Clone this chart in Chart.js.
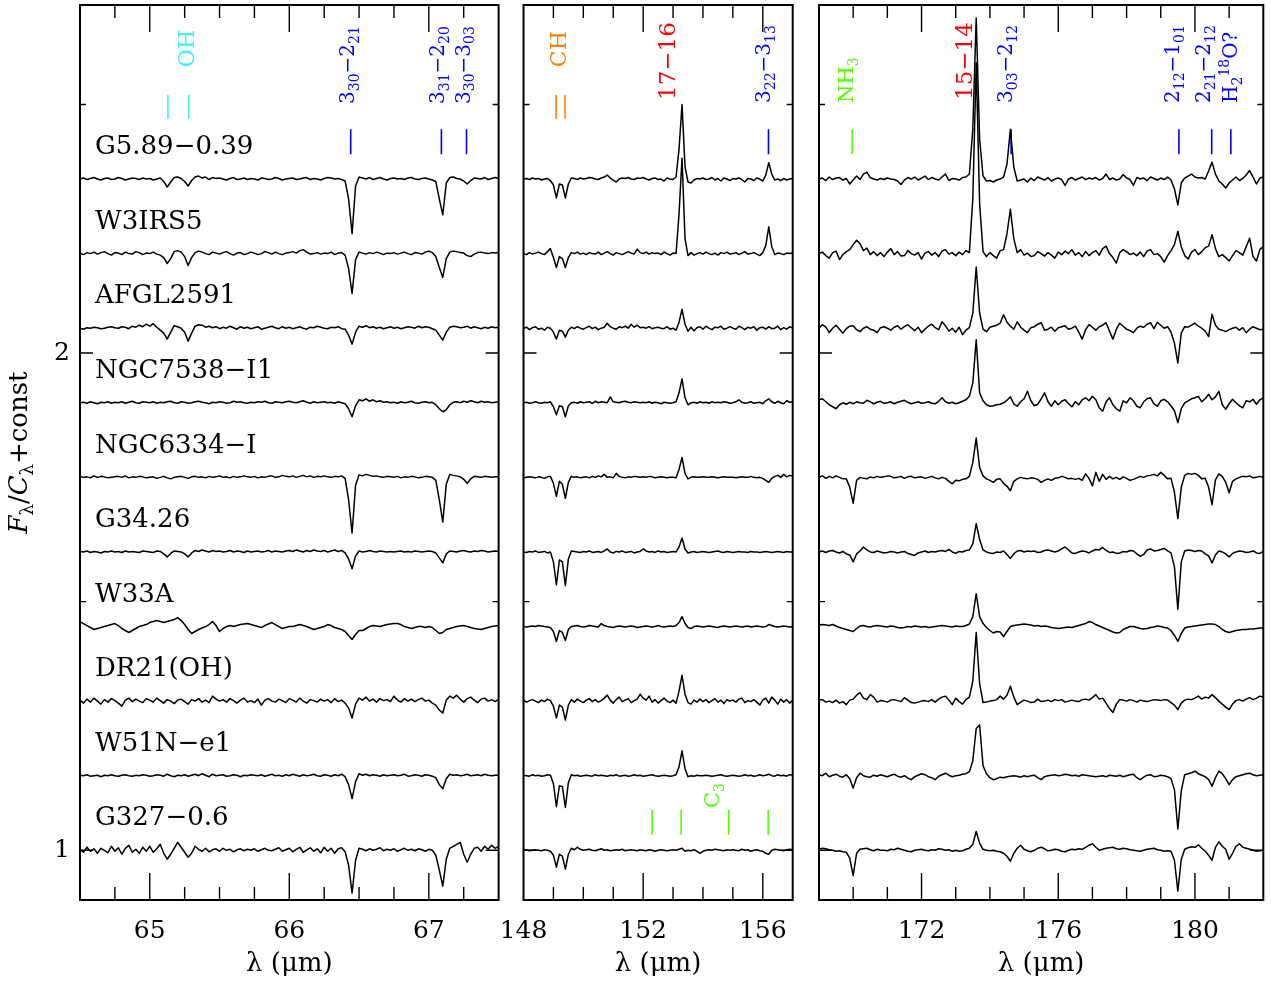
<!DOCTYPE html>
<html>
<head>
<meta charset="utf-8">
<title>Far-infrared spectra</title>
<script src="https://cdn.jsdelivr.net/npm/chart.js@4.4.1/dist/chart.umd.min.js"></script>
<style>
  body { margin: 0; background: #fff; }
  #wrap { position: relative; width: 1271px; height: 983px; }
  canvas { position: absolute; top: 0; }
</style>
</head>
<body>
<div id="wrap">
  <canvas id="c65" width="510" height="983" style="left:0px"></canvas>
  <canvas id="c153" width="310" height="983" style="left:495px"></canvas>
  <canvas id="c175" width="466" height="983" style="left:805px"></canvas>
</div>
<script>
// sources, top to bottom, and the constant added to each normalised spectrum
const sources = ['G5.89−0.39', 'W3IRS5', 'AFGL2591', 'NGC7538−I1', 'NGC6334−I',
                 'G34.26', 'W33A', 'DR21(OH)', 'W51N−e1', 'G327−0.6'];
const offsets = [2.35, 2.20, 2.05, 1.90, 1.75, 1.60, 1.45, 1.30, 1.15, 1.00];

// wavelength sampling of the three windows (micron)
const lam65 = Array.from({ length: 121 }, (_, i) => +(64.5 + 0.025 * i).toFixed(3));
const lam153 = Array.from({ length: 91 }, (_, i) => +(148 + 0.1 * i).toFixed(2));
const lam175 = Array.from({ length: 131 }, (_, i) => +(169 + 0.1 * i).toFixed(2));

// tick labels
const ticks65 = [65, 66, 67];
const ticks153 = [148, 152, 156];
const ticks175 = [172, 176, 180];
const yTicks = [1, 2];

// line identifications (micron)
const ohLines = [65.13, 65.28];
const h2oLines65 = [66.44, 67.09, 67.27];
const chLines = [149.09, 149.39];
const h2oLines153 = [156.19];
const c3Lines = [152.3, 153.27, 154.86, 156.18];
const nh3Lines = [169.97];
const h2oLines175 = [174.62, 179.53, 180.49, 181.05];

// spectra, F/C - 1 in units of 0.001, 64.5-67.5 um
const G589_65 = [
0,2,-1,1,3,0,-2,1,2,-1, 0,3,1,-2,0,2,1,-1,2,0, 1,-2,0,2,-5,-16,-6,3,4,1, -5,-14,-3,4,6,2,4,-1,3,1,
2,0,-2,1,3,-1,0,2,-1,1, 0,-2,2,1,-1,0,3,1,-2,0, 1,2,-1,0,2,3,-1,1,0,-2, 1,3,2,0,1,-1,-4,-40,-110,-14,
4,2,0,3,-1,1,3,0,-2,1, 2,0,1,-1,2,3,0,-1,1,2, 0,-2,-5,-40,-72,-8,3,4,1,0, -4,-10,-3,2,1,0,3,-1,1,3, 1];
const W3IRS5_65 = [
1,-2,2,0,3,-1,2,4,0,-3, 2,1,-2,3,0,-1,4,2,-2,1, 0,3,-1,-3,-8,-20,-10,4,6,3, -6,-24,-8,2,5,3,0,-2,3,1,
-1,2,4,0,-3,1,2,-2,0,3, 1,-2,0,4,2,-1,3,0,-2,1, 2,4,1,6,8,3,-1,0,2,-1, 1,0,3,-2,1,2,-3,-30,-80,-12,
3,1,-1,2,0,3,1,-2,1,0, 2,-1,1,3,0,-2,2,1,-1,3, 5,2,-6,-28,-48,-10,3,5,4,2, 1,-4,-6,-1,2,3,1,0,2,1, 2];
const AFGL2591_65 = [
0,-2,1,0,2,1,-1,0,2,3, 1,0,3,2,-1,4,2,6,3,8, 4,9,2,-4,-10,-22,-8,5,3,0, -8,-26,-10,4,7,6,2,4,1,3,
-1,2,0,4,1,-2,3,0,2,-1, 1,3,-2,0,2,4,1,-1,3,0, 2,-1,1,3,0,-2,2,1,4,2, 0,-1,2,1,3,-1,-2,-14,-32,-8,
4,2,5,1,3,0,2,-1,1,3, 0,2,-1,1,3,2,0,4,1,3, 2,-1,-4,-14,-24,-8,2,4,3,1, 2,4,0,3,1,-1,2,0,3,1, 2];
const NGC7538_65 = [
0,1,-1,2,0,-2,1,0,2,-1, 1,0,2,-1,1,3,0,-1,2,1, 0,2,-1,1,0,2,3,0,-1,2, 1,-1,0,2,3,1,0,-2,1,0,
2,1,-1,0,3,1,2,0,-1,1, 0,2,1,3,0,-1,2,1,0,2, 3,1,0,2,4,1,-1,2,0,1, 2,0,1,-1,2,0,-2,-12,-28,-6,
6,4,8,3,6,2,4,1,2,0, 1,-1,2,0,1,3,0,-1,1,2, 0,1,-4,-12,-18,-14,-4,1,2,0, 3,1,4,2,0,3,1,2,0,1, 2];
const NGC6334_65 = [
2,0,1,-1,3,0,2,1,-1,0, 1,2,0,3,-1,1,0,2,1,-1, 0,1,-2,0,2,-1,-3,0,1,2, 0,-2,1,2,0,1,-1,2,0,1,
3,0,1,-1,2,0,1,3,1,0, 2,-1,1,0,2,3,0,1,4,2, 1,3,0,2,4,1,3,0,2,1, 3,1,0,2,1,3,-2,-45,-112,-16,
5,3,6,4,2,3,1,0,2,1, 0,2,-1,1,0,2,1,-1,0,2, 1,0,-6,-45,-90,-14,6,4,3,1, -4,-12,-3,2,1,0,2,1,0,1, 1];
const G3426_65 = [
1,0,2,-1,1,0,-2,1,0,2, 0,1,-1,2,0,1,0,-1,2,1, 0,-1,2,1,-4,-10,-3,2,1,0, -4,-10,-2,3,1,4,2,0,3,1,
2,0,1,3,0,2,1,-1,2,0, 1,2,0,1,3,0,2,1,0,2, 3,1,4,2,0,3,1,4,2,1, 3,0,2,4,1,3,-2,-14,-34,-8,
2,0,1,3,1,0,2,1,0,1, 0,1,2,0,1,0,2,1,0,1, 2,1,-2,-12,-22,-4,2,1,0,2, 3,1,0,2,1,3,2,0,1,2, 1];
const W33A_65 = [
10,6,2,-2,-6,-4,-2,0,2,4, 6,2,-4,-8,-12,-8,-4,0,2,4, 8,10,12,10,8,10,12,14,18,12, 4,-6,-14,-10,-6,-3,0,4,10,2,
-10,-4,0,2,0,2,4,5,6,4, 2,0,-2,2,5,8,4,0,-4,-2, 0,0,2,4,2,0,-3,-6,-4,-2, 0,4,2,-2,-4,-6,-10,-18,-26,-16,
-8,-8,-4,0,2,1,0,2,4,5, 6,6,4,0,-2,-4,-2,0,0,-2, 0,-2,-8,-14,-12,-6,-4,-2,0,1, 2,0,-2,-4,-5,-6,-4,-2,0,1, 2];
const DR21_65 = [
2,-4,4,-2,6,0,-6,3,-2,5, 1,-4,-10,2,6,-1,4,0,-3,5, 2,-2,6,1,-4,3,0,-5,2,4, -1,-6,3,0,5,-2,2,-3,10,4,
0,3,-2,5,1,-4,2,6,-2,1, -3,4,-8,2,5,0,-2,4,1,-3, 5,2,-2,6,0,-4,3,1,-2,4, 0,3,-3,5,-1,2,-4,-14,-34,-6,
6,2,8,0,4,-2,5,1,3,-1, 10,2,-2,5,0,4,-1,3,6,0, 2,-4,-8,-18,-24,2,10,6,12,4, -2,5,8,2,-3,4,6,0,3,-1, 4];
const W51N_65 = [
1,0,2,-1,0,1,-2,1,0,2, 0,-1,1,2,0,-1,1,0,2,1, -1,0,2,1,-1,3,0,-2,1,0, 2,-1,1,3,0,4,1,-2,3,0,
1,2,-1,0,2,1,-2,1,0,2, 1,0,2,-1,1,3,0,1,-1,2, 0,3,1,-1,2,0,1,3,0,-1, 2,1,-1,2,0,3,-2,-18,-46,-12,
4,1,3,0,2,1,-1,2,0,1, 2,0,1,3,-1,0,2,1,-1,2, 1,-1,-4,-18,-26,-6,3,1,2,0, 1,3,0,1,2,0,3,1,0,1, 1];
const G327_65 = [
2,-4,6,-2,3,-6,4,0,-5,8, -2,5,-8,4,10,-4,2,-6,6,-2, 8,-4,3,12,-6,-18,-8,4,16,6, -4,-14,-6,8,2,-2,4,-3,1,3,
-2,4,0,2,-3,1,3,-1,2,0, 3,-2,1,4,0,-1,2,5,-2,1, 4,-3,2,6,-4,1,5,-2,3,-5, 6,-2,4,-6,3,5,-3,-30,-86,-20,
4,2,-1,3,0,2,5,-1,2,0, 3,-2,1,4,0,2,-1,3,1,-2, 2,0,-10,-40,-72,-18,4,8,12,16, -8,-24,-8,4,6,-2,8,2,10,4, 8];

// 148-157 um
const G589_153 = [
0,1,-1,2,0,1,-2,0,1,-3, -12,-38,-10,-12,-38,-10,2,1,-1,2, 0,1,3,2,0,-1,2,4,8,2, -2,-6,0,2,1,3,0,-1,2,1,
3,0,-2,1,2,-1,0,-4,2,0, -1,4,60,150,25,-6,-8,-2,1,0, 2,-1,0,3,-2,1,-4,2,0,-3, 1,0,2,-1,-6,1,0,-3,2,0,
-4,8,33,10,-2,0,-3,1,-2,0, 1];
const W3IRS5_153 = [
0,-2,2,-1,1,3,0,-2,4,10, -8,-28,-6,-10,-28,-8,2,0,3,-1, 1,-2,2,0,-1,3,-2,1,4,0, -3,2,0,-2,1,4,1,-1,9,2,
0,3,-1,2,0,1,-2,3,0,-3, 1,0,80,192,30,-4,2,-3,0,2, -1,3,0,-2,1,-3,2,0,3,-1, 0,2,-2,1,4,-1,0,2,-1,-4,
2,16,54,14,-2,1,0,-2,1,0, 1];
const AFGL2591_153 = [
0,2,-3,1,3,-2,0,-4,2,0, -8,-22,-4,-6,-18,-4,2,-1,3,0, -2,1,4,-1,2,-3,0,2,10,3, 0,-2,3,1,4,0,8,2,6,1,
2,0,3,-1,1,2,0,-1,3,-2, 0,-4,12,38,8,-6,2,-5,1,3, -2,4,0,-3,2,1,4,-2,0,3, 0,-2,4,1,-3,2,0,3,-4,1,
2,-2,3,-1,0,4,-3,1,-2,3, 0];
const NGC7538_153 = [
0,1,-1,0,2,0,-1,1,0,2, -8,-24,-6,-8,-28,-6,0,1,-1,2, 0,1,2,-1,3,0,2,1,0,12, 2,1,0,2,3,1,0,2,1,0,
1,0,2,-1,1,0,-2,1,0,-1, 0,2,20,48,10,-4,0,1,-1,2, 0,1,-1,2,0,1,0,2,1,-1, 0,2,6,1,-1,0,2,-1,0,1,
-2,4,8,2,-1,3,0,-2,4,1, 2];
const NGC6334_153 = [
-1,0,1,0,-1,1,0,-2,1,2, -12,-38,-8,-14,-42,-10,2,0,1,-1, 0,1,-1,2,0,3,1,6,0,1, -1,8,2,0,-1,1,0,2,1,0,
1,0,2,1,-1,0,1,0,-1,0, 0,-1,16,40,8,-3,0,1,0,0, 1,0,0,1,0,-1,0,1,0,0, 0,-1,0,1,0,0,2,0,-1,0,
-2,-6,-10,-2,2,4,0,6,1,4, 2];
const G3426_153 = [
0,-1,1,0,2,-1,0,1,-2,0, -20,-66,-16,-20,-68,-14,2,1,0,-1, 1,0,2,-1,0,1,-1,2,6,0, -2,1,0,2,-1,0,1,-2,0,1,
6,2,0,1,-1,2,0,1,-1,0, 1,0,10,28,6,-2,0,1,-1,0, 1,0,-1,0,1,2,0,-1,1,0, -1,0,1,0,0,-1,1,0,0,-1,
0,1,0,-1,0,1,0,-1,1,0, 0];
const W33A_153 = [
0,-1,0,1,0,2,1,0,-1,-2, -10,-30,-8,-12,-28,-6,0,1,2,0, -1,0,2,1,0,-1,6,2,0,-1, -2,0,1,0,-1,0,1,0,-2,-1,
0,1,0,-1,0,2,0,-1,0,1, 0,2,8,20,6,-2,-4,0,1,0, -1,0,1,0,-1,-2,0,1,0,-1, 0,1,0,-1,0,1,-1,0,1,0,
-1,0,4,2,0,-1,0,1,0,-1, 0];
const DR21_153 = [
2,-2,1,3,0,-3,2,-1,4,1, -10,-34,-8,-12,-38,-8,3,-2,4,0, -3,2,5,-1,3,-2,1,6,12,2, -4,3,8,-1,2,5,-3,1,4,14,
6,2,10,-2,3,-4,1,6,0,-3, 2,-4,20,52,14,-3,-6,2,-2,4, -1,3,-3,1,5,-2,2,-5,3,0, 2,-2,4,6,-3,1,-1,3,-2,-8,
2,6,-4,8,2,-6,4,-2,3,-4, 2];
const W51N_153 = [
1,0,-1,2,0,1,-1,0,2,1, -16,-62,-20,-22,-64,-14,2,0,1,-1, 0,1,0,-1,2,0,1,0,-1,1, 0,2,-1,0,1,-1,0,2,0,1,
-1,0,1,2,0,-1,0,1,0,-1, 0,2,18,50,14,-2,0,-1,1,0, 0,1,0,-1,0,1,2,0,-1,0, 1,0,-1,0,2,0,1,-1,0,2,
0,1,3,0,-1,2,0,1,-1,2, 1];
const G327_153 = [
0,1,-1,0,1,0,-1,1,0,-2, -10,-34,-8,-12,-38,-8,4,1,6,2, 0,1,2,0,-1,1,3,0,1,-1, 0,1,0,2,-1,0,1,0,-1,1,
0,-1,1,0,-2,0,1,0,-1,0, 1,0,2,4,-2,0,-1,1,-2,-6, -2,0,1,0,2,1,0,-1,1,0, 1,0,-1,2,0,1,-2,0,1,-1,
-2,-6,-8,0,2,1,0,-1,1,2, 1];

// 169-182 um
const G589_175 = [
0,2,-3,4,-1,2,3,-2,1,-10, -2,6,-1,10,14,3,0,-2,1,-1, 2,0,-1,-4,-11,-2,3,0,4,-2, 2,6,-1,3,0,-2,4,10,-3,1,
0,-2,3,4,10,100,324,80,6,-4, -3,-6,-2,0,4,30,100,24,-4,-2, 0,-6,2,-3,4,1,-2,3,-4,0, 2,-1,-13,0,3,-2,1,4,-1,2,
0,3,-2,1,10,-1,2,-2,0,9, 2,-1,-13,3,0,2,-3,4,1,-2, 2,-1,4,-2,-20,-52,-8,2,6,10, 4,2,3,0,16,34,10,-4,-10,-18,
-8,-2,4,-3,1,8,17,4,-10,2, 4];
const W3IRS5_175 = [
0,3,-4,-9,2,5,-12,-2,4,8, 18,27,20,6,11,-2,4,-4,2,-6, 3,10,-2,4,-5,-4,6,0,-3,2, -11,1,4,-3,2,-6,5,8,-1,2,
-4,3,-2,6,2,110,384,100,4,-6, 2,-4,-9,6,8,40,89,30,2,8, -3,1,-6,-4,4,0,-5,2,-3,-9, 3,-2,5,0,8,-3,2,-6,4,-4,
2,6,-3,10,15,0,-8,-19,2,8, 4,-2,1,-4,3,-6,5,8,-2,0, -6,-17,-4,6,18,45,14,-4,-11,3, 8,-2,4,12,15,38,10,-6,-2,-8,
-15,-4,6,2,-3,14,31,-6,-15,8, 15];
const AFGL2591_175 = [
0,7,2,-9,0,6,-2,-10,-1,4, 5,-3,-7,0,3,-2,-4,-9,1,3, 0,-4,2,5,-2,3,7,1,-5,2, -9,-2,4,8,1,-3,13,5,-6,0,
-8,2,-13,-4,1,30,123,30,-2,-7, 2,4,6,10,27,12,4,-2,13,2, -4,-9,1,3,8,11,-4,-2,2,-6, 1,3,5,-2,0,4,-8,-22,-3,7,
2,-4,3,6,11,-6,-22,-2,10,4, -2,-5,-9,0,4,2,8,11,-1,12, 6,0,3,-8,-30,-70,-10,3,2,6, 10,4,0,-6,-17,28,6,-2,-4,-7,
-3,0,2,-4,1,-9,-2,3,0,-3, -2];
const NGC7538_175 = [
6,8,2,-4,-8,-12,-4,0,-3,1, -2,2,0,-1,5,2,-2,1,3,-1, 0,2,-2,1,3,5,1,-2,0,2, -1,0,2,-1,-2,3,10,2,-1,1,
-2,0,3,6,13,40,127,20,4,-4, -7,-6,-4,-3,0,5,12,-2,-7,2, 8,23,4,-6,-3,8,20,2,-7,4, -4,3,6,-2,-8,2,-4,6,10,4,
13,6,-10,-17,2,10,-4,-12,-17,4, 0,10,4,-7,-10,2,8,10,-2,-7, 4,7,2,-6,-16,-40,-12,0,4,8, 10,13,2,8,17,6,12,23,-4,-13,
-2,7,0,-6,-10,4,2,7,-3,6, 10];
const NGC6334_175 = [
0,3,-2,2,-1,3,0,-3,-3,-20, -52,-6,0,-2,-3,1,-1,2,0,1, 3,2,-1,0,2,-2,1,2,-1,0, 1,-2,0,2,-1,-3,0,-2,-8,-13,
-6,-7,-4,-3,2,30,79,20,3,-3, -6,-10,-4,-3,-12,-18,-27,-8,-3,0, -2,-3,-1,-2,-4,-10,-6,-3,-6,-2, -1,2,0,-3,-2,-4,-2,-6,7,-2,
-17,10,-8,6,-4,2,-3,0,-4,1, -2,-6,-4,-1,2,0,3,4,6,3, 10,4,-3,-2,-30,-83,-20,4,8,6, 8,4,-3,-2,-20,-55,-5,7,2,-10,
-31,-8,-3,0,2,1,3,-1,0,2, 0];
const G3426_175 = [
0,2,-1,2,3,0,-2,1,-4,-6, -20,-4,2,10,4,0,-1,2,0,-2, -1,1,0,-2,0,1,-3,-5,-7,-2, 0,2,-1,1,0,2,3,1,5,0,
-3,1,0,3,4,16,57,25,4,0, -2,-3,0,-1,2,-5,-13,-4,2,3, 0,2,1,2,-1,0,3,4,2,0, 2,6,10,4,-2,-3,0,2,1,-2,
2,5,4,9,3,-1,0,-3,-2,1, 0,3,2,-4,-9,-5,4,6,2,3, 5,7,2,-2,-30,-115,-20,2,4,3, 1,3,2,-4,-8,-22,-6,2,0,-4,
-10,-3,0,2,1,-1,0,2,-2,-3, 1];
const W33A_175 = [
3,4,3,2,4,1,-2,-4,-6,-8, -10,-4,1,2,0,-1,1,2,1,0, -1,1,0,-2,-3,-2,0,-1,1,0, -1,0,-2,-1,0,1,2,1,0,-1,
1,0,0,2,5,20,66,20,6,-2, -8,-13,-10,-11,-20,-10,0,2,3,4, 5,4,3,1,2,0,1,0,-2,-3, -4,-3,-2,-1,-2,0,2,4,6,10,
8,4,1,-2,-5,-8,-11,-13,-12,-6, -3,0,0,-2,-4,-5,-4,-2,-1,1, 0,-2,-3,-8,-18,-30,-14,-3,-1,0, 1,2,3,4,5,5,4,0,-6,-10,
-12,-10,-8,-7,-6,-6,-5,-5,-4,-3, -3];
const DR21_175 = [
2,3,-2,0,-3,2,-4,-1,-7,2, 4,12,17,6,3,13,8,-2,1,0, -2,2,3,1,-1,7,2,-3,-4,-2, 0,1,-1,3,-2,4,8,10,2,-7,
6,-1,-6,3,8,40,138,35,-3,-2, 0,1,3,10,4,12,30,8,-7,-2, 2,0,-3,-2,4,-1,0,2,-1,3, 1,3,-2,0,2,0,-1,3,4,2,
7,13,4,6,-4,-15,-23,-6,3,2, 0,3,1,-2,2,0,-1,1,3,2, 1,3,2,-3,-8,-17,-4,2,4,3, 6,10,4,8,6,13,7,0,-6,-12,
-17,-6,1,3,0,4,7,3,6,10, 8];
const W51N_175 = [
2,0,5,-2,1,3,-1,-3,2,-6, -25,-4,5,0,-2,-3,1,-1,2,0, -2,1,3,-1,-3,0,-5,-8,-2,1, 4,2,-2,-4,-8,-1,2,5,1,-2,
0,1,3,4,8,30,95,102,20,4, -4,-8,-6,-3,-4,-2,-1,0,-1,-3, 0,-2,0,1,-4,-8,-2,0,1,2, 0,1,3,2,0,1,-1,2,1,0,
-1,-2,-1,0,-2,1,0,-1,1,-2, 0,2,3,-4,-8,-3,1,2,-2,-1, 1,0,-2,-6,-28,-107,-30,2,4,6, 9,4,1,-2,-8,-21,-4,9,4,-6,
-18,-8,-2,0,2,4,5,2,0,1, 2];
const G327_175 = [
2,4,3,1,0,-2,-1,-3,-4,-16, -51,-6,2,3,4,1,-1,2,0,0, -1,2,1,4,2,0,-2,-3,0,1, 2,0,-1,1,0,3,2,0,1,-2,
0,-2,-1,2,4,12,38,14,2,0, -1,0,-2,-3,-6,-12,-22,-6,4,10, 2,-1,-3,0,4,6,3,-1,0,2, 1,-2,-3,0,2,1,3,2,6,10,
13,6,0,2,4,5,6,3,2,4, 3,1,0,-1,-2,0,2,3,4,1, 0,-2,-1,-2,-20,-82,-18,2,5,7, 6,11,4,-2,-10,-20,6,17,8,2,
-18,-6,8,13,6,4,2,0,-2,-1, 0];

const panel65 = [G589_65, W3IRS5_65, AFGL2591_65, NGC7538_65, NGC6334_65, G3426_65, W33A_65, DR21_65, W51N_65, G327_65];
const panel153 = [G589_153, W3IRS5_153, AFGL2591_153, NGC7538_153, NGC6334_153, G3426_153, W33A_153, DR21_153, W51N_153, G327_153];
const panel175 = [G589_175, W3IRS5_175, AFGL2591_175, NGC7538_175, NGC6334_175, G3426_175, W33A_175, DR21_175, W51N_175, G327_175];

const CYAN = '#3ff0ff', BLUE = '#0000ff', RED = '#ff0000', ORANGE = '#ff8000', GREEN = '#55ff00';
const FAM = '"DejaVu Serif"';

Chart.defaults.font.family = FAM;
Chart.defaults.color = '#000';

// "3_{30}-2_{21}" -> pieces with sub/superscript marks
function parseRich(str) {
  const out = [];
  let i = 0;
  while (i < str.length) {
    const c = str[i];
    if (c === '_' || c === '^') {
      let t;
      if (str[i + 1] === '{') {
        const j = str.indexOf('}', i);
        t = str.slice(i + 2, j);
        i = j + 1;
      } else {
        t = str[i + 1];
        i += 2;
      }
      out.push({ t: t, m: c });
    } else {
      let j = i;
      while (j < str.length && str[j] !== '_' && str[j] !== '^') j++;
      out.push({ t: str.slice(i, j), m: '' });
      i = j;
    }
  }
  return out;
}

// vertical text, reading upwards
function drawRich(ctx, segs, x, y, size, color, center) {
  ctx.save();
  ctx.translate(x, y);
  ctx.rotate(-Math.PI / 2);
  ctx.fillStyle = color;
  ctx.textBaseline = 'alphabetic';
  const fontOf = s => (s.it ? 'italic ' : '') + (s.m ? Math.round(size * 0.68) : size) + 'px ' + FAM;
  let w = 0;
  segs.forEach(s => { ctx.font = fontOf(s); w += ctx.measureText(s.t).width; });
  let cx = center ? -w / 2 : 0;
  segs.forEach(s => {
    ctx.font = fontOf(s);
    const dy = s.m === '_' ? size * 0.24 : (s.m === '^' ? -size * 0.42 : 0);
    ctx.fillText(s.t, cx, dy);
    cx += ctx.measureText(s.t).width;
  });
  ctx.restore();
}

const yTitle = [{ t: 'F', it: true }, { t: 'λ', m: '_' }, { t: '/' }, { t: 'C', it: true }, { t: 'λ', m: '_' }, { t: '+const' }];

// box, inward ticks, names and line labels
const decor = {
  id: 'decor',
  afterDraw(chart, args, o) {
    const ctx = chart.ctx, a = chart.chartArea;
    const xs = chart.scales.x, ys = chart.scales.y;
    ctx.save();
    ctx.strokeStyle = '#000';
    ctx.lineWidth = 1.4;
    ctx.beginPath();
    const n = Math.round((xs.max - xs.min) / o.minor);
    for (let i = 1; i < n; i++) {
      const v = +(xs.min + i * o.minor).toFixed(3);
      const px = xs.getPixelForValue(v);
      const len = o.major.includes(v) ? 27 : 13;
      ctx.moveTo(px, a.bottom); ctx.lineTo(px, a.bottom - len);
      ctx.moveTo(px, a.top); ctx.lineTo(px, a.top + len);
    }
    [1, 1.5, 2, 2.5].forEach(v => {
      const py = ys.getPixelForValue(v);
      const len = yTicks.includes(v) ? 13 : 6;
      ctx.moveTo(a.left, py); ctx.lineTo(a.left + len, py);
      ctx.moveTo(a.right, py); ctx.lineTo(a.right - len, py);
    });
    ctx.stroke();
    ctx.lineWidth = 2;
    ctx.strokeRect(a.left, a.top, a.right - a.left, a.bottom - a.top);

    if (o.names) {
      ctx.fillStyle = '#000';
      ctx.font = '26px ' + FAM;
      ctx.textBaseline = 'alphabetic';
      ctx.textAlign = 'left';
      sources.forEach((s, k) => ctx.fillText(s, a.left + 15, ys.getPixelForValue(offsets[k] + 0.05)));
      drawRich(ctx, yTitle, 27, (a.top + a.bottom) / 2, 26, '#000', true);
    }
    o.labels.forEach(l => {
      drawRich(ctx, parseRich(l.text), xs.getPixelForValue(l.x) + l.size * 0.36, ys.getPixelForValue(l.y), l.size, l.color, false);
    });
    ctx.restore();
  }
};
Chart.register(decor);

function makePanel(id, lam, sets, xmin, xmax, tickVals, pad, showY, marks, labels, minor) {
  const datasets = sets.map((vals, k) => ({
    data: lam.map((x, i) => ({ x: x, y: offsets[k] + vals[i] / 1000 })),
    borderColor: '#000',
    borderWidth: 1.5,
    borderJoinStyle: 'round'
  }));
  marks.forEach(m => m.lams.forEach(v => datasets.push({
    data: [{ x: v, y: m.y0 }, { x: v, y: m.y1 }],
    borderColor: m.color,
    borderWidth: 1.6
  })));

  new Chart(document.getElementById(id), {
    type: 'line',
    data: { datasets: datasets },
    options: {
      responsive: false,
      animation: false,
      events: [],
      layout: { padding: { left: pad[0], right: pad[1], top: 5, bottom: 0 } },
      elements: { point: { radius: 0 }, line: { tension: 0 } },
      plugins: {
        legend: { display: false },
        tooltip: { enabled: false },
        decor: { minor: minor, major: tickVals, names: showY, labels: labels }
      },
      scales: {
        x: {
          type: 'linear',
          min: xmin,
          max: xmax,
          grid: { display: false, drawTicks: false },
          border: { display: false },
          afterBuildTicks: s => { s.ticks = tickVals.map(v => ({ value: v })); },
          afterFit: s => { s.height = 83; s.paddingLeft = 0; s.paddingRight = 0; },
          ticks: { font: { size: 25 }, padding: 16, maxRotation: 0, autoSkip: false },
          title: { display: true, text: 'λ (μm)', font: { size: 26 }, padding: { top: 0, bottom: 3 } }
        },
        y: {
          min: 0.9,
          max: 2.7,
          display: showY,
          grid: { display: false, drawTicks: false },
          border: { display: false },
          afterBuildTicks: s => { s.ticks = yTicks.map(v => ({ value: v })); },
          afterFit: s => { if (showY) s.width = 80; s.paddingTop = 0; s.paddingBottom = 0; },
          ticks: { font: { size: 25 }, padding: 10 }
        }
      }
    }
  });
}

makePanel('c65', lam65, panel65, 64.5, 67.5, ticks65, [0, 11.4], true, [
  { lams: ohLines, y0: 2.471, y1: 2.519, color: CYAN },
  { lams: h2oLines65, y0: 2.40, y1: 2.45, color: BLUE }
], [
  { text: 'OH', x: 65.26, y: 2.575, size: 22, color: CYAN },
  { text: '3_{30}−2_{21}', x: 66.41, y: 2.501, size: 20, color: BLUE },
  { text: '3_{31}−2_{20}', x: 67.06, y: 2.501, size: 20, color: BLUE },
  { text: '3_{30}−3_{03}', x: 67.24, y: 2.501, size: 20, color: BLUE }
], 0.25);

makePanel('c153', lam153, panel153, 148, 157, ticks153, [28.5, 12.3], false, [
  { lams: chLines, y0: 2.471, y1: 2.519, color: ORANGE },
  { lams: h2oLines153, y0: 2.40, y1: 2.45, color: BLUE },
  { lams: c3Lines, y0: 1.031, y1: 1.081, color: GREEN }
], [
  { text: 'CH', x: 149.16, y: 2.575, size: 22, color: ORANGE },
  { text: '17−16', x: 152.79, y: 2.509, size: 23, color: RED },
  { text: '3_{22}−3_{13}', x: 156.0, y: 2.503, size: 20, color: BLUE },
  { text: 'C_3', x: 154.29, y: 1.085, size: 21, color: GREEN }
], 1);

makePanel('c175', lam175, panel175, 169, 182, ticks175, [14, 7.7], false, [
  { lams: nh3Lines, y0: 2.40, y1: 2.45, color: GREEN },
  { lams: h2oLines175, y0: 2.40, y1: 2.45, color: BLUE }
], [
  { text: 'NH_3', x: 169.76, y: 2.503, size: 21, color: GREEN },
  { text: '15−14', x: 173.22, y: 2.509, size: 23, color: RED },
  { text: '3_{03}−2_{12}', x: 174.44, y: 2.503, size: 20, color: BLUE },
  { text: '2_{12}−1_{01}', x: 179.32, y: 2.503, size: 20, color: BLUE },
  { text: '2_{21}−2_{12}', x: 180.23, y: 2.503, size: 20, color: BLUE },
  { text: 'H_2^{18}O?', x: 181.02, y: 2.503, size: 20, color: BLUE }
], 1);
</script>
</body>
</html>
